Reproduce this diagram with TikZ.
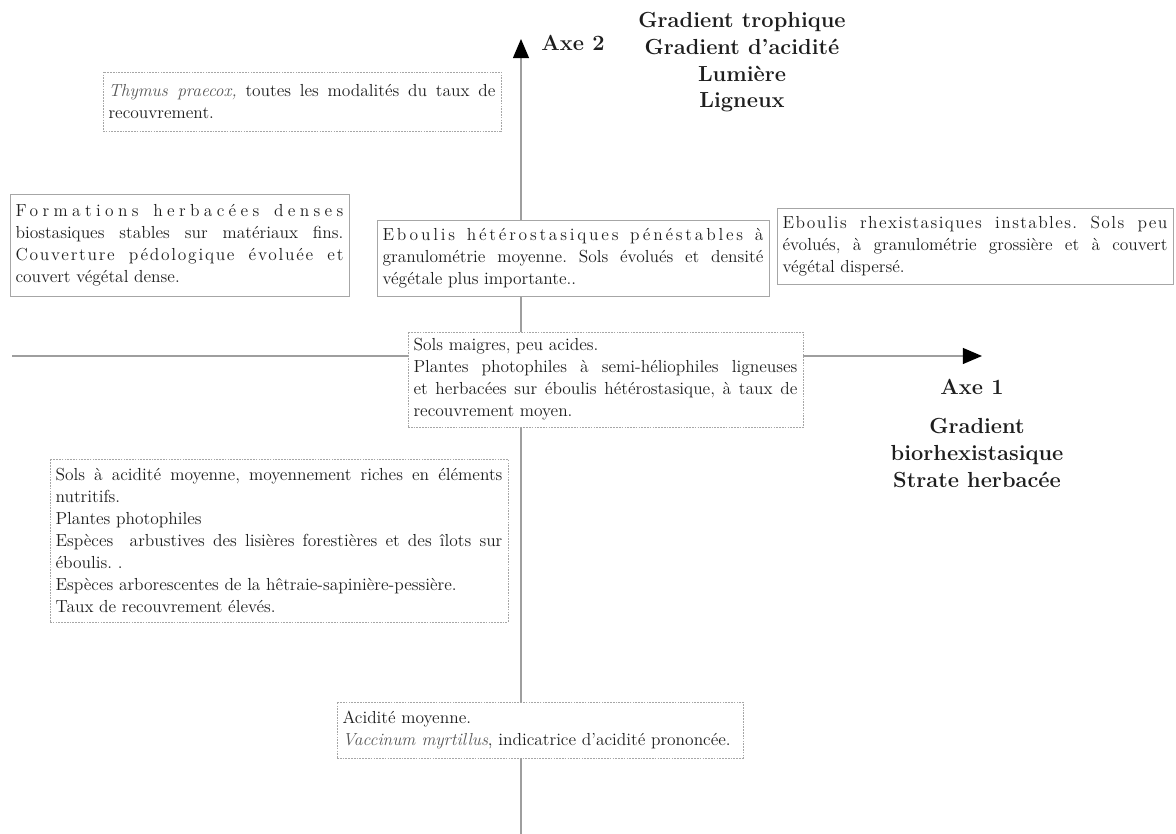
\documentclass[tikz,border=0pt]{standalone}
\usepackage{fontspec}
\setmainfont{lmroman12-regular.otf}[BoldFont=lmroman12-bold.otf, ItalicFont=lmroman12-italic.otf, BoldItalicFont=lmroman10-bolditalic.otf]
\usepackage{xcolor}
\definecolor{axisgray}{HTML}{9E9E9E}
\definecolor{boxgray}{HTML}{A6A6A6}
\definecolor{latingray}{HTML}{555555}
\definecolor{inkdark}{HTML}{1E1E1E}
\usepackage{tikz}
\usetikzlibrary{arrows.meta}
\newcommand{\bodyfont}{\fontsize{12.4}{15.6}\selectfont\frenchspacing}
\newcommand{\labelfont}{\bfseries\fontsize{15.5}{19}\selectfont}
\newcommand{\latin}[1]{{\color{latingray}\itshape #1}}
\newcommand{\spaced}[2]{{\addfontfeature{LetterSpace=#1}#2}}
\tikzset{
  axisline/.style={draw=axisgray, line width=1pt, -{Triangle[length=4.8mm,width=4mm,color=black]}},
  plainbox/.style={draw=boxgray, line width=0.6pt, fill=white, align=justify, inner xsep=0.14cm, inner ysep=0.1cm, font=\bodyfont, text=inkdark},
  dotbox/.style={plainbox, dash pattern=on 1.2pt off 0.8pt},
  axelabel/.style={font=\labelfont, align=center, text=inkdark}
}

\begin{document}
\begin{tikzpicture}
  \useasboundingbox (0,0) rectangle (29.4,20.85);
  \coordinate (vbot) at (13.025,0);
  \coordinate (vtop) at (13.025,19.875);
  \coordinate (hleft) at (0.3,11.95);
  \coordinate (hright) at (24.55,11.95);
  \draw[axisline] (vbot) -- (vtop);
  \draw[axisline] (hleft) -- (hright);

  \node[axelabel] (axe2) at (14.325,19.775) {Axe 2};
  \node[axelabel] (grad2) at (18.55,19.29) {Gradient trophique\\Gradient d'acidité\\Lumière\\Ligneux};
  \node[axelabel] (axe1) at (24.3,11.175) {Axe 1};
  \node[axelabel] (grad1) at (24.425,9.525) {Gradient\\biorhexistasique\\Strate herbacée};

  \node[dotbox, text width=9.67cm, minimum height=1.475cm] (thymus) at (7.55,18.3125)
    {\latin{Thymus praecox,} toutes les modalités du taux de\linebreak recouvrement.};
  \node[plainbox, text width=8.195cm, minimum height=2.55cm] (formations) at (4.4875,14.725)
    {\spaced{25}{Formations herbacées denses}\linebreak biostasiques stables sur matériaux fins.\linebreak \spaced{10}{Couverture pédologique évoluée et}\linebreak couvert végétal dense.};
  \node[plainbox, text width=9.52cm, minimum height=1.9cm] (hetero) at (14.325,14.4)
    {\spaced{16}{Eboulis hétérostasiques pénéstables à}\linebreak granulométrie moyenne. Sols évolués et densité\linebreak végétale plus importante..};
  \node[plainbox, text width=9.62cm, minimum height=1.9cm] (rhexi) at (24.375,14.7)
    {\spaced{8}{Eboulis rhexistasiques instables. Sols peu}\linebreak évolués, à granulométrie grossière et à couvert\linebreak végétal dispersé.};
  \node[dotbox, text width=9.595cm, minimum height=2.375cm] (maigres) at (15.1375,11.3625)
    {Sols maigres, peu acides.\\ Plantes photophiles à semi-héliophiles ligneuses\linebreak et herbacées sur éboulis hétérostasique, à taux de\linebreak recouvrement moyen.};
  \node[dotbox, text width=11.17cm, minimum height=4.075cm] (moyenne) at (6.975,7.3375)
    {Sols à acidité moyenne, moyennement riches en éléments\linebreak nutritifs.\\ Plantes photophiles\\ Espèces\ \ arbustives des lisières forestières et des îlots sur\linebreak éboulis. .\\ Espèces arborescentes de la hêtraie-sapinière-pessière.\\ Taux de recouvrement élevés.};
  \node[dotbox, text width=9.87cm, minimum height=1.4cm] (vaccinum) at (13.5,2.6)
    {Acidité moyenne.\\ \latin{Vaccinum myrtillus}, indicatrice d'acidité prononcée.};
\end{tikzpicture}
\end{document}
